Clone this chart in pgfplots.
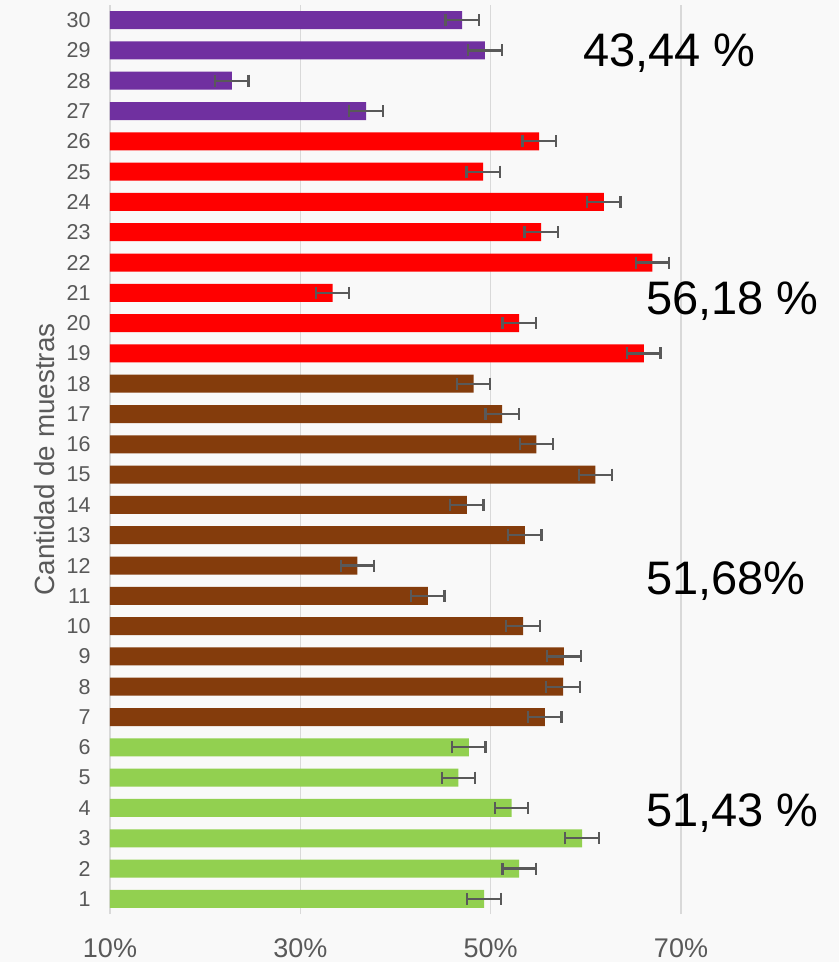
\documentclass[border=0pt]{standalone}
\usepackage{fontspec}
\setmainfont{Liberation Sans}
\usepackage{pgfplots}
\pgfplotsset{compat=1.18}

\definecolor{bgc}{HTML}{F9F9F9}
\definecolor{gridc}{HTML}{D9D9D9}
\definecolor{tickc}{HTML}{595959}
\definecolor{errc}{HTML}{595959}
\definecolor{cpurple}{HTML}{7030A0}
\definecolor{cred}{HTML}{FF0000}
\definecolor{cbrown}{HTML}{843C0C}
\definecolor{cgreen}{HTML}{92D050}

\begin{document}
\begin{tikzpicture}
% page background
\fill[bgc] (-110pt,-48pt) rectangle (729pt,914pt);
\begin{axis}[
  at={(0pt,0pt)}, anchor=south west,
  scale only axis, width=729pt, height=909pt,
  xbar, bar width=18pt,
  xmin=10, xmax=86.6, ymin=0.5, ymax=30.5,
  enlargelimits=false,
  axis line style={draw=none},
  major tick length=0pt,
  xmajorgrids, ymajorgrids=false,
  grid style={gridc, line width=1.6pt},
  xtick={10,30,50,70},
  xticklabels={10\%,30\%,50\%,70\%},
  ytick={1,...,30},
  /pgf/number format/assume math mode=true,
  xticklabel style={font=\fontsize{27}{30}\selectfont, text=tickc, anchor=north, inner sep=0pt, yshift=-24pt},
  yticklabel style={font=\fontsize{21.5}{24}\selectfont, text=tickc, anchor=east, inner sep=0pt, xshift=-19.3pt},
  error bars/error bar style={errc, line width=2.2pt},
  error bars/error mark options={errc, line width=2.2pt, mark size=6pt, rotate=90},
]
% group 27-30
\addplot[fill=cpurple, draw=none, bar shift=0pt,
  error bars/.cd, x dir=both, x explicit] coordinates {
  (47.0,30) +- (1.75,0)
  (49.4,29) +- (1.75,0)
  (22.8,28) +- (1.75,0)
  (36.9,27) +- (1.75,0)
};
% group 19-26
\addplot[fill=cred, draw=none, bar shift=0pt,
  error bars/.cd, x dir=both, x explicit] coordinates {
  (55.1,26) +- (1.75,0)
  (49.2,25) +- (1.75,0)
  (61.9,24) +- (1.75,0)
  (55.3,23) +- (1.75,0)
  (67.0,22) +- (1.75,0)
  (33.4,21) +- (1.75,0)
  (53.0,20) +- (1.75,0)
  (66.1,19) +- (1.75,0)
};
% group 7-18
\addplot[fill=cbrown, draw=none, bar shift=0pt,
  error bars/.cd, x dir=both, x explicit] coordinates {
  (48.2,18) +- (1.75,0)
  (51.2,17) +- (1.75,0)
  (54.8,16) +- (1.75,0)
  (61.0,15) +- (1.75,0)
  (47.5,14) +- (1.75,0)
  (53.6,13) +- (1.75,0)
  (36.0,12) +- (1.75,0)
  (43.4,11) +- (1.75,0)
  (53.4,10) +- (1.75,0)
  (57.7,9)  +- (1.75,0)
  (57.6,8)  +- (1.75,0)
  (55.7,7)  +- (1.75,0)
};
% group 1-6
\addplot[fill=cgreen, draw=none, bar shift=0pt,
  error bars/.cd, x dir=both, x explicit] coordinates {
  (47.7,6) +- (1.75,0)
  (46.6,5) +- (1.75,0)
  (52.2,4) +- (1.75,0)
  (59.6,3) +- (1.75,0)
  (53.0,2) +- (1.75,0)
  (49.3,1) +- (1.75,0)
};
% group averages
\node[anchor=base west, inner sep=0pt, font=\fontsize{47}{50}\selectfont] at (axis cs:59.68,28.46) {43,44 \%};
\node[anchor=base west, inner sep=0pt, font=\fontsize{47}{50}\selectfont] at (axis cs:66.33,20.30) {56,18 \%};
\node[anchor=base west, inner sep=0pt, font=\fontsize{47}{50}\selectfont] at (axis cs:66.33,11.06) {51,68\%};
\node[anchor=base west, inner sep=0pt, font=\fontsize{47}{50}\selectfont] at (axis cs:66.33,3.39) {51,43 \%};
\end{axis}
\node[rotate=90, anchor=base, inner sep=0pt, text=tickc, font=\fontsize{27.8}{30}\selectfont] at (-55pt,454.5pt) {Cantidad de muestras};
\end{tikzpicture}
\end{document}
